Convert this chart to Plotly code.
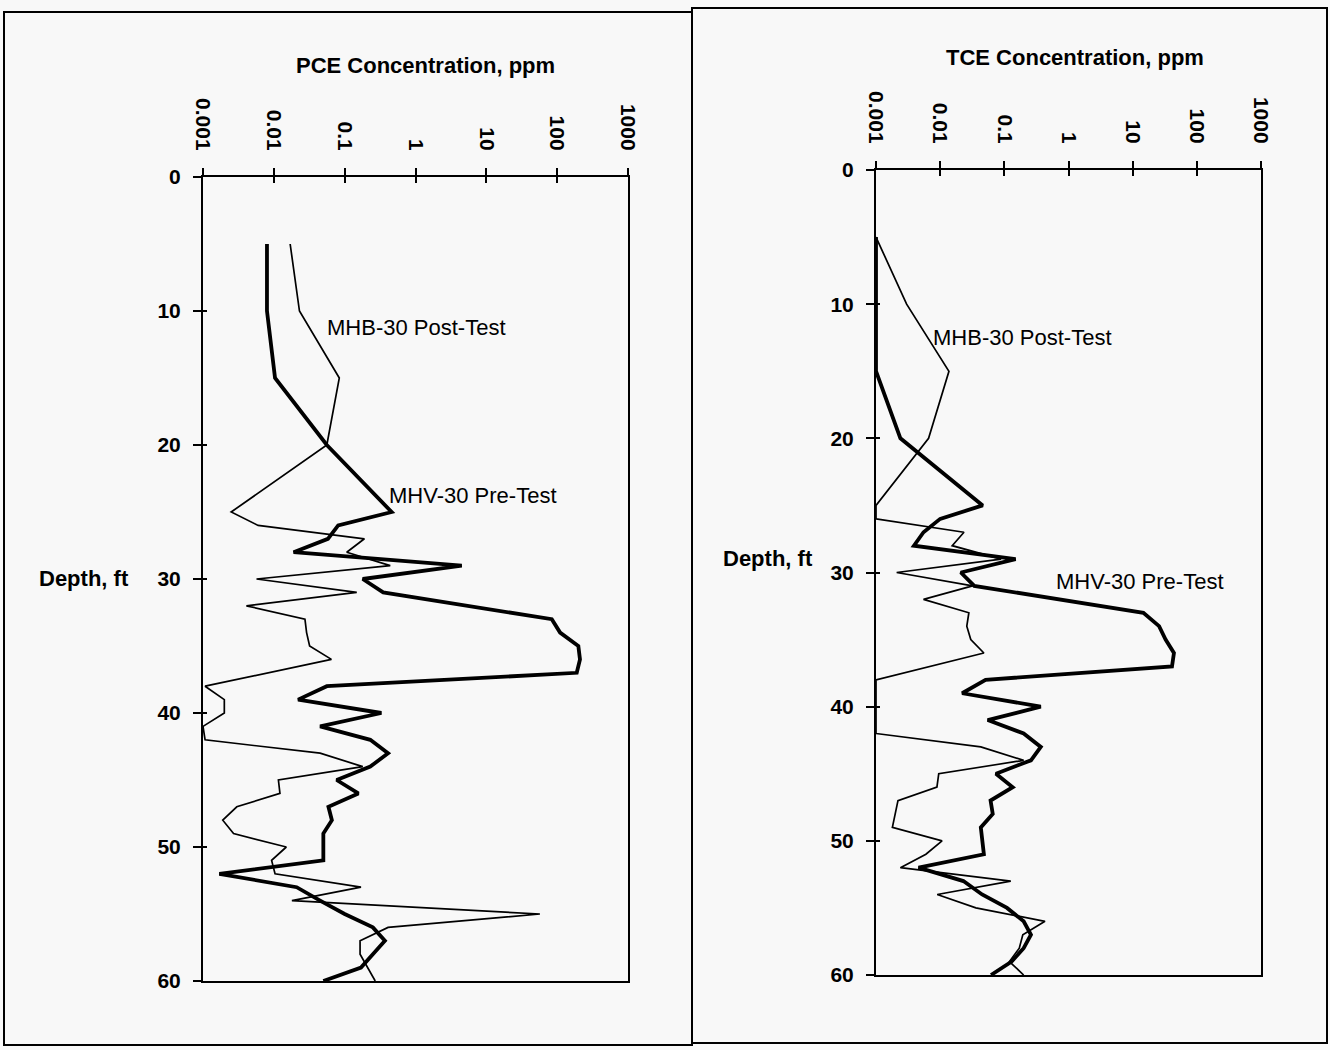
import math
import plotly.graph_objects as go

W, H = 1330, 1050

# ---------------- data ----------------
conc_tickvals = [0.001, 0.01, 0.1, 1, 10, 100, 1000]
conc_ticktext = ["0.001", "0.01", "0.1", "1", "10", "100", "1000"]
depth_tickvals = [0, 10, 20, 30, 40, 50, 60]
depth_ticktext = ["0", "10", "20", "30", "40", "50", "60"]

pce_pre_depth = [5, 10, 15, 20, 25, 26, 27, 28, 29, 30, 31, 33, 34, 35, 36, 37, 38, 39, 40, 41,
                 42, 43, 44, 45, 46, 47, 48, 49, 50, 51, 52, 53, 54, 55, 56, 57, 58, 59, 60]
pce_pre = [0.008, 0.008, 0.0104, 0.056, 0.46, 0.081, 0.058, 0.019, 4.5, 0.18, 0.35, 84, 110, 199,
           210, 189, 0.056, 0.022, 0.33, 0.045, 0.23, 0.41, 0.23, 0.077, 0.156, 0.059, 0.066,
           0.050, 0.050, 0.050, 0.0017, 0.021, 0.045, 0.10, 0.25, 0.37, 0.25, 0.17, 0.05]

pce_post_depth = [5, 10, 15, 20, 25, 26, 27, 28, 29, 30, 31, 32, 33, 34, 35, 36, 38, 39, 40, 41,
                  42, 43, 44, 45, 46, 47, 48, 49, 50, 51, 52, 53, 54, 55, 56, 57, 58, 60]
pce_post = [0.017, 0.023, 0.084, 0.056, 0.0025, 0.006, 0.19, 0.107, 0.44, 0.0057, 0.148, 0.0041,
            0.0275, 0.029, 0.032, 0.065, 0.00107, 0.002, 0.002, 0.001, 0.00107, 0.045, 0.18,
            0.0116, 0.0122, 0.003, 0.0019, 0.0027, 0.015, 0.0093, 0.0104, 0.17, 0.018, 57,
            0.41, 0.165, 0.165, 0.27]

tce_pre_depth = [5, 10, 15, 20, 25, 26, 27, 28, 29, 30, 31, 33, 34, 35, 36, 37, 38, 39, 40, 41,
                 42, 43, 44, 45, 46, 47, 48, 49, 50, 51, 52, 53, 54, 55, 56, 57, 58, 59, 60]
tce_pre = [0.001, 0.001, 0.001, 0.0024, 0.046, 0.010, 0.0055, 0.0039, 0.15, 0.021, 0.034, 14.7,
           25.8, 32.6, 44, 41, 0.051, 0.022, 0.37, 0.055, 0.20, 0.37, 0.26, 0.074, 0.135, 0.061,
           0.066, 0.043, 0.045, 0.048, 0.0046, 0.023, 0.045, 0.11, 0.20, 0.26, 0.20, 0.13, 0.062]

tce_post_depth = [5, 10, 15, 20, 25, 26, 27, 28, 29, 30, 31, 32, 33, 34, 35, 36, 38, 39, 40, 41,
                  42, 43, 44, 45, 46, 47, 48, 49, 50, 51, 52, 53, 54, 55, 56, 57, 58, 59, 60]
tce_post = [0.001, 0.003, 0.0137, 0.0066, 0.001, 0.001, 0.0235, 0.0154, 0.089, 0.0021, 0.032,
            0.0055, 0.028, 0.026, 0.03, 0.048, 0.001, 0.001, 0.001, 0.001, 0.001, 0.043, 0.2,
            0.0095, 0.0089, 0.0022, 0.002, 0.0018, 0.0107, 0.006, 0.0024, 0.126, 0.009, 0.036,
            0.43, 0.194, 0.171, 0.12, 0.2]

# ---------------- figure ----------------
FONT = "Liberation Sans, Arial, sans-serif"
BG = "#f8f8f8"

fig = go.Figure()

thin = dict(color="black", width=1.7)
thick = dict(color="black", width=3.8)

fig.add_trace(go.Scatter(x=pce_post, y=pce_post_depth, mode="lines", line=thin,
                         xaxis="x", yaxis="y", name="MHB-30 Post-Test"))
fig.add_trace(go.Scatter(x=pce_pre, y=pce_pre_depth, mode="lines", line=thick,
                         xaxis="x", yaxis="y", name="MHV-30 Pre-Test"))
fig.add_trace(go.Scatter(x=tce_post, y=tce_post_depth, mode="lines", line=thin,
                         xaxis="x2", yaxis="y2", name="MHB-30 Post-Test"))
fig.add_trace(go.Scatter(x=tce_pre, y=tce_pre_depth, mode="lines", line=thick,
                         xaxis="x2", yaxis="y2", name="MHV-30 Pre-Test"))
# transparent copies so the overlay (crossing-tick) axes are drawn
fig.add_trace(go.Scatter(x=pce_post, y=pce_post_depth, mode="lines", opacity=0,
                         line=dict(width=0), xaxis="x3", yaxis="y3", hoverinfo="skip"))
fig.add_trace(go.Scatter(x=tce_post, y=tce_post_depth, mode="lines", opacity=0,
                         line=dict(width=0), xaxis="x4", yaxis="y4", hoverinfo="skip"))

tickfont = dict(family=FONT, size=21, color="black", weight="bold")


def px_x(x):
    """page pixel -> paper fraction"""
    return x / W


def px_y(y):
    return 1 - y / H


common = dict(showgrid=False, zeroline=False, fixedrange=True, automargin=False)


def main_x(domain):
    return dict(type="log", range=[-3, 3], domain=domain, side="top",
                tickmode="array", tickvals=conc_tickvals, ticktext=conc_ticktext,
                tickangle=90, ticks="outside", ticklen=7, tickwidth=1.5, tickcolor="black",
                ticklabelstandoff=10,
                showline=True, linewidth=2, linecolor="black", mirror=True,
                tickfont=tickfont, **common)


def main_y(domain):
    return dict(range=[60, 0], domain=domain, tickmode="array",
                tickvals=depth_tickvals, ticktext=depth_ticktext,
                ticks="outside", ticklen=8, tickwidth=1.5, tickcolor="black",
                ticklabelstandoff=8,
                showline=True, linewidth=2, linecolor="black", mirror=True,
                tickfont=tickfont, **common)


def over_x(base, anchor):
    return dict(type="log", range=[-3, 3], overlaying=base, anchor=anchor, side="top",
                tickmode="array", tickvals=conc_tickvals, ticks="inside", ticklen=6,
                tickwidth=1.5, tickcolor="black", showticklabels=False, showline=False,
                **common)


def over_y(base, anchor):
    return dict(range=[60, 0], overlaying=base, anchor=anchor, side="left",
                tickmode="array", tickvals=depth_tickvals, ticks="inside", ticklen=4,
                tickwidth=1.5, tickcolor="black", showticklabels=False, showline=False,
                **common)


left_xd = [px_x(203), px_x(628)]
left_yd = [px_y(981), px_y(177)]
right_xd = [px_x(876), px_x(1261)]
right_yd = [px_y(975), px_y(170)]

fig.update_layout(
    template=None,
    width=W, height=H, autosize=False,
    margin=dict(l=0, r=0, t=0, b=0, pad=0, autoexpand=False),
    paper_bgcolor=BG, plot_bgcolor=BG,
    showlegend=False,
    xaxis=dict(main_x(left_xd), anchor="y"),
    yaxis=dict(main_y(left_yd), anchor="x"),
    xaxis2=dict(main_x(right_xd), anchor="y2"),
    yaxis2=dict(main_y(right_yd), anchor="x2"),
    xaxis3=over_x("x", "y3"),
    yaxis3=over_y("y", "x3"),
    xaxis4=over_x("x2", "y4"),
    yaxis4=over_y("y2", "x4"),
)

# outer panel boxes
fig.add_shape(type="rect", xref="paper", yref="paper",
              x0=px_x(4), x1=px_x(692), y0=px_y(1045), y1=px_y(12),
              line=dict(color="black", width=2))
fig.add_shape(type="rect", xref="paper", yref="paper",
              x0=px_x(692), x1=px_x(1327), y0=px_y(1043), y1=px_y(8),
              line=dict(color="black", width=2))

bold = dict(family=FONT, size=22, color="black", weight="bold")
normal = dict(family=FONT, size=22, color="black")

annos = [
    dict(text="PCE Concentration, ppm", x=px_x(425), y=px_y(65), font=bold),
    dict(text="TCE Concentration, ppm", x=px_x(1075), y=px_y(58), font=bold),
    dict(text="Depth, ft", x=px_x(84), y=px_y(578), font=bold),
    dict(text="Depth, ft", x=px_x(768), y=px_y(558), font=bold),
]
for a in annos:
    fig.add_annotation(xref="paper", yref="paper", showarrow=False,
                       xanchor="center", yanchor="middle", **a)

labels = [
    ("x", "y", 0.053, 11.2, "MHB-30 Post-Test"),
    ("x", "y", 0.40, 23.8, "MHV-30 Pre-Test"),
    ("x2", "y2", 0.0071, 12.5, "MHB-30 Post-Test"),
    ("x2", "y2", 0.60, 30.7, "MHV-30 Pre-Test"),
]
for xr, yr, xv, yv, t in labels:
    fig.add_annotation(xref=xr, yref=yr, x=math.log10(xv), y=yv, text=t, showarrow=False,
                       xanchor="left", yanchor="middle", font=normal)

fig.write_html("out.html")
